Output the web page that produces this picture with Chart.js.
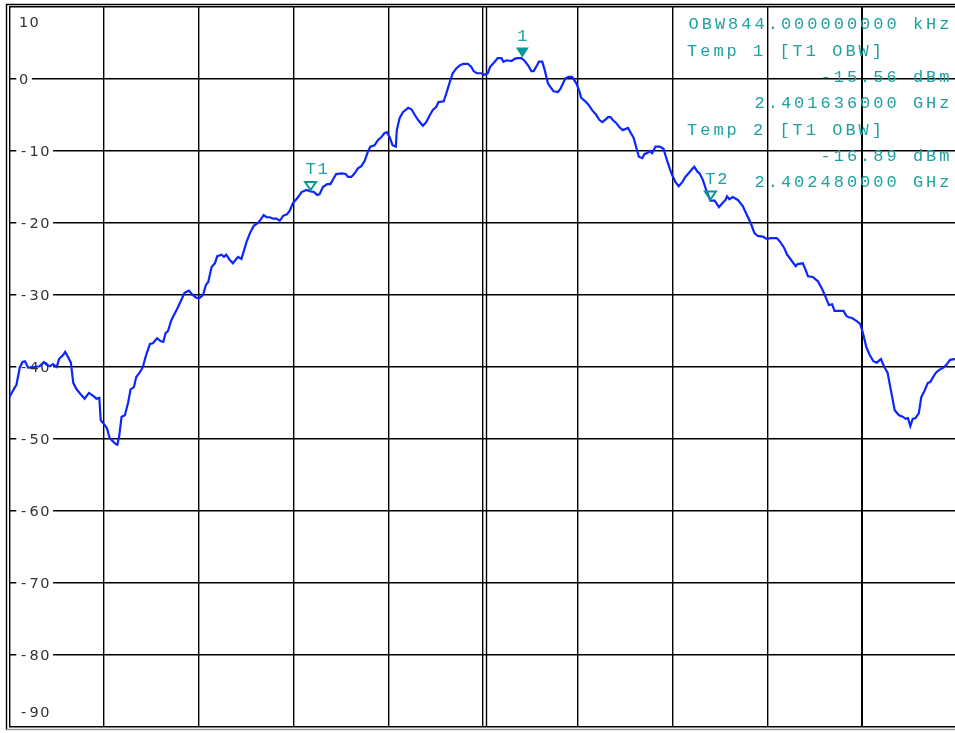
<!DOCTYPE html>
<html>
<head>
<meta charset="utf-8">
<script src="https://cdn.jsdelivr.net/npm/chart.js@4.4.1/dist/chart.umd.min.js"></script>
<style>
  html, body { margin: 0; padding: 0; background: #fff; overflow: hidden; }
  #wrap { position: relative; width: 960px; height: 733px; }
</style>
</head>
<body>
<div id="wrap"><canvas id="spec" width="960" height="733"></canvas></div>
<script>
// Sweep: 2.401 .. 2.403 GHz, reference 10 dBm, 10 dB/div
const START_GHZ = 2.401;
const SPAN_KHZ = 2000;
const REF_TOP = 10;
const REF_BOTTOM = -90;

// trace: offset from start frequency (kHz) and level (dBm)
const freqOffsetKHz = [
  0, 5, 12, 15, 22, 28, 33, 40, 47, 54,
  64, 73, 79, 86, 92, 100, 105, 114, 118, 124,
  130, 135, 142, 152, 159, 168, 177, 184, 190, 193,
  202, 206, 212, 223, 228, 232, 237, 244, 251, 256,
  263, 268, 275, 282, 286, 290, 297, 303, 312, 319,
  325, 330, 335, 342, 349, 356, 363, 370, 379, 387,
  395, 402, 409, 415, 420, 427, 434, 439, 448, 453,
  458, 465, 472, 479, 483, 490, 495, 501, 508, 516,
  525, 532, 537, 543, 550, 557, 564, 571, 578, 586,
  592, 599, 606, 613, 617, 627, 636, 643, 650, 655,
  662, 671, 678, 683, 690, 701, 710, 715, 722, 729,
  736, 743, 750, 757, 762, 771, 778, 785, 792, 797,
  803, 809, 816, 818, 824, 831, 842, 849, 856, 863,
  873, 880, 887, 894, 901, 906, 917, 923, 930, 936,
  944, 951, 958, 968, 975, 980, 987, 996, 1003, 1010,
  1015, 1022, 1031, 1039, 1043, 1050, 1060, 1067, 1072, 1081,
  1088, 1095, 1102, 1107, 1114, 1118, 1125, 1130, 1137, 1142,
  1149, 1158, 1163, 1169, 1174, 1181, 1188, 1197, 1204, 1207,
  1216, 1223, 1231, 1238, 1246, 1252, 1259, 1264, 1269, 1274,
  1281, 1288, 1295, 1306, 1311, 1318, 1323, 1329, 1336, 1341,
  1346, 1352, 1357, 1364, 1373, 1381, 1387, 1394, 1399, 1406,
  1413, 1421, 1427, 1434, 1443, 1446, 1453, 1457, 1464, 1471,
  1480, 1489, 1498, 1506, 1512, 1515, 1520, 1527, 1538, 1548,
  1557, 1565, 1573, 1580, 1591, 1599, 1608, 1620, 1627, 1636,
  1642, 1650, 1660, 1664, 1675, 1681, 1686, 1696, 1707, 1716,
  1724, 1730, 1737, 1742, 1751, 1761, 1767, 1772, 1779, 1788,
  1796, 1802, 1809, 1816, 1824, 1831, 1840, 1847, 1854, 1862,
  1869, 1878, 1886, 1892, 1897, 1902, 1907, 1913, 1920, 1925,
  1932, 1939, 1944, 1951, 1956, 1963, 1972, 1978, 1986, 1995,
  2000
];
const levelDbm = [
  -44.2, -43.6, -42.8, -42.5, -40.1, -39.3, -39.2, -40.1, -40.0, -40.0,
  -39.9, -39.3, -39.7, -39.9, -39.6, -40.0, -38.9, -38.3, -37.9, -38.6,
  -39.4, -42.2, -43.1, -43.9, -44.4, -43.6, -44.0, -44.4, -44.3, -47.4,
  -48.1, -48.5, -49.9, -50.6, -50.8, -49.6, -46.9, -46.7, -44.9, -43.1,
  -42.8, -41.4, -40.8, -40.0, -39.0, -38.1, -36.8, -36.7, -36.0, -36.4,
  -36.5, -35.3, -35.0, -33.5, -32.6, -31.7, -30.7, -29.7, -29.4, -30.0,
  -30.4, -30.4, -30.0, -28.6, -28.2, -26.1, -25.6, -24.6, -24.4, -24.7,
  -24.4, -25.1, -25.6, -25.0, -24.7, -25.0, -23.9, -22.6, -21.4, -20.4,
  -20.0, -19.4, -18.9, -19.2, -19.2, -19.4, -19.4, -19.7, -19.0, -18.8,
  -18.3, -17.2, -16.7, -16.1, -15.7, -15.4, -15.6, -15.7, -16.1, -16.0,
  -15.0, -14.6, -14.6, -14.0, -13.2, -13.1, -13.2, -13.6, -13.6, -13.1,
  -12.4, -12.1, -11.4, -10.1, -9.4, -9.2, -8.5, -8.1, -7.5, -7.4,
  -8.1, -9.2, -9.4, -7.1, -5.4, -4.6, -4.0, -4.2, -5.0, -5.7,
  -6.5, -6.0, -5.1, -4.3, -3.9, -3.2, -3.1, -1.9, -0.4, 0.8,
  1.5, 1.9, 2.1, 2.1, 1.7, 1.1, 0.8, 0.8, 0.6, 0.8,
  1.7, 2.2, 2.9, 2.9, 2.4, 2.6, 2.5, 2.8, 2.9, 2.9,
  2.5, 1.9, 1.1, 1.1, 1.9, 2.4, 2.4, 1.3, -0.6, -1.1,
  -1.7, -1.8, -1.4, -0.6, 0.1, 0.3, 0.3, -0.6, -1.8, -2.6,
  -3.1, -3.6, -4.4, -4.9, -5.7, -6.0, -5.6, -5.3, -5.3, -5.7,
  -6.1, -6.7, -7.1, -6.8, -7.4, -8.2, -9.4, -10.8, -11.0, -10.4,
  -10.3, -10.0, -10.3, -9.4, -9.4, -9.7, -11.0, -12.4, -13.3, -14.3,
  -14.9, -14.3, -13.6, -13.1, -12.4, -12.2, -12.9, -13.1, -14.0, -15.4,
  -16.9, -16.9, -17.8, -17.2, -16.8, -16.3, -16.7, -16.4, -16.8, -17.6,
  -18.9, -20.0, -21.4, -21.8, -21.9, -22.2, -22.1, -22.1, -22.6, -23.5,
  -24.4, -25.1, -26.0, -25.7, -25.6, -26.5, -27.4, -27.5, -28.1, -29.2,
  -30.4, -31.4, -31.3, -32.2, -32.2, -32.2, -32.9, -33.1, -33.2, -33.6,
  -34.0, -35.3, -37.2, -38.3, -39.2, -39.4, -38.9, -40.0, -40.8, -43.6,
  -46.0, -46.7, -46.9, -47.2, -47.1, -48.2, -47.2, -47.1, -46.4, -44.2,
  -43.3, -42.2, -42.1, -41.3, -40.8, -40.4, -40.1, -39.7, -39.0, -38.9,
  -38.9
];

// markers
const markerNames  = ['1', 'T1', 'T2'];
const markerFreqGHz = [2.402083, 2.401636, 2.402480];
const markerLevels = [3.0, -15.56, -16.89];
const markerFilled = [true, false, false];

const obwKHz = 844;
const yLabelValues = [10, 0, -10, -20, -30, -40, -50, -60, -70, -80, -90];

const TEAL = '#1fa1a1';
const TEAL_DARK = '#0b9797';
const TRACE_BLUE = '#0c26ff';

function offsetKHz(ghz) {
  return Math.round((ghz - START_GHZ) * 1e6 * 10) / 10;
}

// monospaced text with a fixed cell advance
function cellText(ctx, str, x, y, advance, align) {
  const total = str.length * advance;
  const start = align === 'right' ? x - total : (align === 'center' ? x - total / 2 : x);
  ctx.textAlign = 'center';
  for (let i = 0; i < str.length; i++) {
    ctx.fillText(str[i], start + advance * (i + 0.5), y);
  }
}

const analyzerDecor = {
  id: 'analyzerDecor',
  beforeDatasetsDraw(chart) {
    const { ctx, chartArea: a, scales: { x: xs, y: ys } } = chart;
    ctx.save();
    // double frame lines and centre line
    ctx.strokeStyle = '#000';
    ctx.lineWidth = 1.4;
    ctx.beginPath();
    ctx.moveTo(Math.round(a.left) - 3 + 0.5, a.top - 3);
    ctx.lineTo(Math.round(a.left) - 3 + 0.5, a.bottom + 3);
    ctx.moveTo(a.left - 3, Math.round(a.top) - 2.5);
    ctx.lineTo(a.right + 3, Math.round(a.top) - 2.5);
    const cx = Math.round(xs.getPixelForValue(SPAN_KHZ / 2)) + 3.5;
    ctx.moveTo(cx, a.top);
    ctx.lineTo(cx, a.bottom);
    ctx.stroke();
    ctx.strokeStyle = '#9a9a9a';
    ctx.beginPath();
    ctx.moveTo(a.left - 3, Math.round(a.bottom) + 2.5);
    ctx.lineTo(a.right + 3, Math.round(a.bottom) + 2.5);
    ctx.stroke();

    // level labels inside the grid
    ctx.font = '14.5px "DejaVu Sans"';
    ctx.textBaseline = 'alphabetic';
    yLabelValues.forEach(v => {
      let cy = ys.getPixelForValue(v);
      if (v === REF_TOP) cy += 15;
      if (v === REF_BOTTOM) cy -= 15;
      const txt = String(v);
      const w = txt.length * 10.6;
      ctx.fillStyle = '#fff';
      ctx.fillRect(a.left + 7, cy - 8, w + 5, 16);
      ctx.fillStyle = '#333';
      cellText(ctx, txt, a.left + 9, cy + 5, 10.6, 'left');
    });
    ctx.restore();
  },
  afterDatasetsDraw(chart) {
    const { ctx, scales: { x: xs, y: ys } } = chart;
    ctx.save();
    ctx.font = '17px "Liberation Mono"';
    ctx.textBaseline = 'alphabetic';

    markerNames.forEach((name, i) => {
      const px = xs.getPixelForValue(offsetKHz(markerFreqGHz[i]));
      const py = ys.getPixelForValue(markerLevels[i]);
      ctx.beginPath();
      if (markerFilled[i]) {
        ctx.moveTo(px - 6.5, py - 10);
        ctx.lineTo(px + 6.5, py - 10);
        ctx.lineTo(px, py);
        ctx.closePath();
        ctx.fillStyle = TEAL_DARK;
        ctx.fill();
        ctx.fillStyle = TEAL;
        cellText(ctx, name, px, py - 16, 12, 'center');
      } else {
        ctx.moveTo(px - 5.5, py - 9);
        ctx.lineTo(px + 5.5, py - 9);
        ctx.lineTo(px, py - 1);
        ctx.closePath();
        ctx.strokeStyle = TEAL_DARK;
        ctx.lineWidth = 2;
        ctx.stroke();
        ctx.fillStyle = TEAL;
        cellText(ctx, name, px - 6, py - 17, 12, 'left');
      }
    });

    // readout block
    const t1 = 1, t2 = 2;
    const lines = [
      ['OBW' + obwKHz.toFixed(9) + ' kHz', 'right', 28.5],
      ['Temp 1 [T1 OBW]', 'left', 55.5],
      [markerLevels[t1].toFixed(2) + ' dBm', 'right', 81.5],
      [markerFreqGHz[t1].toFixed(9) + ' GHz', 'right', 107.5],
      ['Temp 2 [T1 OBW]', 'left', 134.5],
      [markerLevels[t2].toFixed(2) + ' dBm', 'right', 161],
      [markerFreqGHz[t2].toFixed(9) + ' GHz', 'right', 187]
    ];
    ctx.fillStyle = TEAL;
    lines.forEach(([txt, align, base]) => {
      cellText(ctx, txt, align === 'right' ? 951 : 685.5, base, 13.2, align);
    });
    ctx.restore();
  }
};

const tracePoints = freqOffsetKHz.map((f, i) => ({ x: f, y: levelDbm[i] }));

new Chart(document.getElementById('spec'), {
  type: 'line',
  data: {
    datasets: [{
      data: tracePoints,
      borderColor: TRACE_BLUE,
      borderWidth: 2.2,
      pointRadius: 0,
      tension: 0,
      fill: false
    }]
  },
  options: {
    responsive: false,
    animation: false,
    devicePixelRatio: 1,
    events: [],
    layout: { padding: { left: 9.3, right: 3.25, top: 7, bottom: 6 } },
    plugins: { legend: { display: false }, tooltip: { enabled: false } },
    scales: {
      x: {
        type: 'linear',
        min: 0,
        max: SPAN_KHZ,
        ticks: { display: false, stepSize: 200 },
        grid: {
          color: '#000',
          lineWidth: c => (c.tick && c.tick.value === 1800 ? 2 : 1.4),
          drawTicks: false
        },
        border: { display: false }
      },
      y: {
        min: REF_BOTTOM,
        max: REF_TOP,
        ticks: { display: false, stepSize: 10 },
        grid: { color: '#000', lineWidth: 1.4, drawTicks: false },
        border: { display: false }
      }
    }
  },
  plugins: [analyzerDecor]
});
</script>
</body>
</html>
